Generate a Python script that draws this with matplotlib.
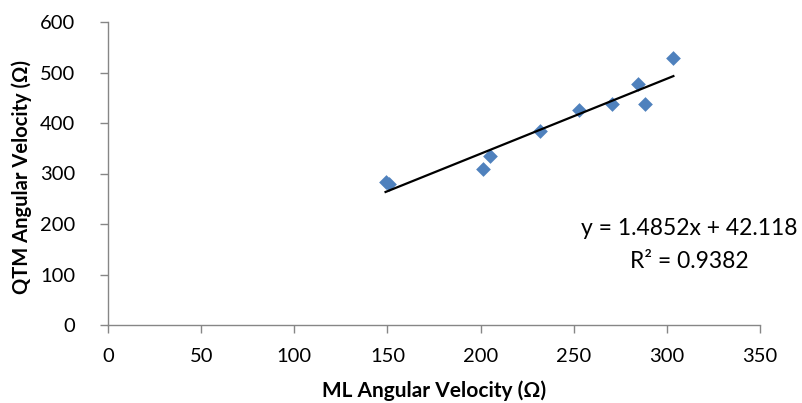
import matplotlib
matplotlib.use("Agg")
import matplotlib.pyplot as plt
import numpy as np

plt.rcParams['font.family'] = ['Lato', 'DejaVu Sans']

# Data
ml_velocity = [149, 151, 201.5, 205, 232, 253, 270.5, 284.5, 288, 303.5]
qtm_velocity = [283, 280, 309, 335, 385, 425, 438, 477, 438, 529]
slope = 1.4852
intercept = 42.118
r_squared = 0.9382

x_ticks = [0, 50, 100, 150, 200, 250, 300, 350]
y_ticks = [0, 100, 200, 300, 400, 500, 600]

fig = plt.figure(figsize=(8.03, 4.03), dpi=100)
ax = fig.add_axes([108/803, 1-325/403, 652/803, 303/403])

ax.scatter(ml_velocity, qtm_velocity, marker='D', s=7.5**2, color='#4F81BD',
           linewidths=0, zorder=3)
xs = np.array([min(ml_velocity), max(ml_velocity)])
ax.plot(xs, slope*xs + intercept, color='black', lw=1.6, zorder=4)

ax.set_xlim(0, 350)
ax.set_ylim(0, 600)
ax.set_xticks(x_ticks)
ax.set_yticks(y_ticks)
for s in ['top', 'right']:
    ax.spines[s].set_visible(False)
for s in ['left', 'bottom']:
    ax.spines[s].set_color('#868686')
    ax.spines[s].set_linewidth(1.0)
ax.tick_params(axis='both', direction='out', length=5.5, width=1.0,
               color='#868686', labelsize=14.5, labelcolor='black')
ax.tick_params(axis='y', pad=18)
ax.tick_params(axis='x', pad=11)

ax.set_xlabel('ML Angular Velocity (Ω)', fontsize=15, fontweight='bold')
ax.set_ylabel('QTM Angular Velocity (Ω)', fontsize=14.5, fontweight='bold')
ax.xaxis.set_label_coords(0.5, -0.183)
ax.yaxis.set_label_coords(-0.117, 0.49)

ax.text(0.891, 0.317, f'y = {slope}x + {intercept}', transform=ax.transAxes,
        ha='center', va='center', fontsize=16.5)
ax.text(0.891, 0.208, f'R² = {r_squared}', transform=ax.transAxes,
        ha='center', va='center', fontsize=16.5)

fig.savefig('out.png', dpi=100)
